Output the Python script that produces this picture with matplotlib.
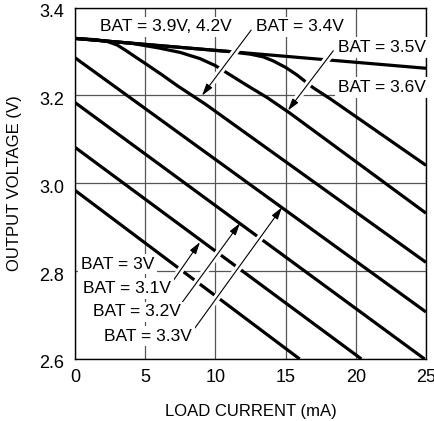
import numpy as np
import matplotlib
matplotlib.use("Agg")
import matplotlib.pyplot as plt
import matplotlib.transforms as mtransforms

plt.rcParams['font.family'] = ['Liberation Sans', 'DejaVu Sans']

# load current (mA) / output voltage (V)
x_30 = [0, 16.0]
v_30 = [2.984, 2.600]
x_31 = [0, 20.4]
v_31 = [3.082, 2.600]
x_32 = [0, 24.9]
v_32 = [3.184, 2.600]
x_33 = [0, 25]
v_33 = [3.286, 2.707]
x_34 = [0, 1.5, 2.3, 3.0, 3.6, 4.2, 5.0, 6.2, 7.3, 9.3, 25]
v_34 = [3.330, 3.327, 3.323, 3.315, 3.303, 3.290, 3.273, 3.247, 3.222, 3.180, 2.820]
x_35 = [0, 4.0, 6.0, 7.5, 8.9, 10.0, 10.8, 12.2, 13.7, 15.3, 25]
v_35 = [3.330, 3.319, 3.308, 3.298, 3.284, 3.268, 3.252, 3.224, 3.195, 3.160, 2.932]
x_36 = [0, 11.0, 12.5, 13.4, 14.1, 15.0, 15.8, 16.95, 18.2, 25]
v_36 = [3.330, 3.300, 3.294, 3.288, 3.279, 3.264, 3.247, 3.218, 3.192, 3.041]
x_top = [0, 25]
v_top = [3.330, 3.262]

curves = [(x_30, v_30), (x_31, v_31), (x_32, v_32), (x_33, v_33),
          (x_34, v_34), (x_35, v_35), (x_36, v_36), (x_top, v_top)]

# label text, text position, arrow start, arrow tip (None = no arrow)
labels = [
    ("BAT = 3.9V, 4.2V", (1.75, 3.356), None, None),
    ("BAT = 3.4V", (12.9, 3.356), (12.55, 3.349), (9.05, 3.200)),
    ("BAT = 3.5V", (18.7, 3.309), (18.4, 3.302), (15.17, 3.166)),
    ("BAT = 3.6V", (18.7, 3.218), None, None),
    ("BAT = 3V", (0.43, 2.816), None, None),
    ("BAT = 3.1V", (0.57, 2.761), (6.77, 2.768), (8.9, 2.866)),
    ("BAT = 3.2V", (1.28, 2.707), (7.34, 2.716), (11.75, 2.909)),
    ("BAT = 3.3V", (2.07, 2.652), (8.19, 2.655), (14.74, 2.945)),
]

FS = 12.5

fig = plt.figure(figsize=(4.35, 4.21), dpi=100)
ax = fig.add_axes([0.1724, 0.1473, 0.8069, 0.8345])

for xs, vs in curves:
    ax.plot(xs, vs, color='black', lw=2.3, solid_capstyle='butt',
            solid_joinstyle='round', zorder=2)

for text, pos, start, tip in labels:
    ax.text(pos[0], pos[1], text, ha='left', va='center', fontsize=FS,
            zorder=6, bbox=dict(facecolor='white', edgecolor='none', pad=2))
    if start is None:
        continue
    # white gap under the shaft, stopping short of the tip
    mid = (start[0] + 0.8 * (tip[0] - start[0]), start[1] + 0.8 * (tip[1] - start[1]))
    ax.plot([start[0], mid[0]], [start[1], mid[1]], color='white', lw=5,
            solid_capstyle='butt', zorder=3)
    ax.annotate('', xy=tip, xytext=start, zorder=4,
                arrowprops=dict(arrowstyle='-|>,head_length=0.6,head_width=0.18',
                                lw=0.8, color='black', mutation_scale=12,
                                shrinkA=0, shrinkB=0))

ax.set_xlim(0, 25)
ax.set_ylim(2.6, 3.4)
ax.set_xticks([0, 5, 10, 15, 20, 25])
ax.set_yticks([2.6, 2.8, 3.0, 3.2, 3.4])
ax.set_yticklabels(['2.6', '2.8', '3.0', '3.2', '3.4'])
ax.grid(True, color='#555555', lw=0.9)
ax.set_axisbelow(True)
ax.tick_params(length=0, labelsize=13, pad=7)
ax.tick_params(axis='y', pad=8)
for s in ax.spines.values():
    s.set_linewidth(1.0)
    s.set_color('black')

offset = mtransforms.ScaledTranslation(0, -3 / 100, fig.dpi_scale_trans)
for lab in ax.get_yticklabels():
    lab.set_transform(lab.get_transform() + offset)

ax.set_xlabel('LOAD CURRENT (mA)', fontsize=12, labelpad=13)
ax.set_ylabel('OUTPUT VOLTAGE (V)', fontsize=12, labelpad=12)

fig.savefig('out.png', dpi=100)
